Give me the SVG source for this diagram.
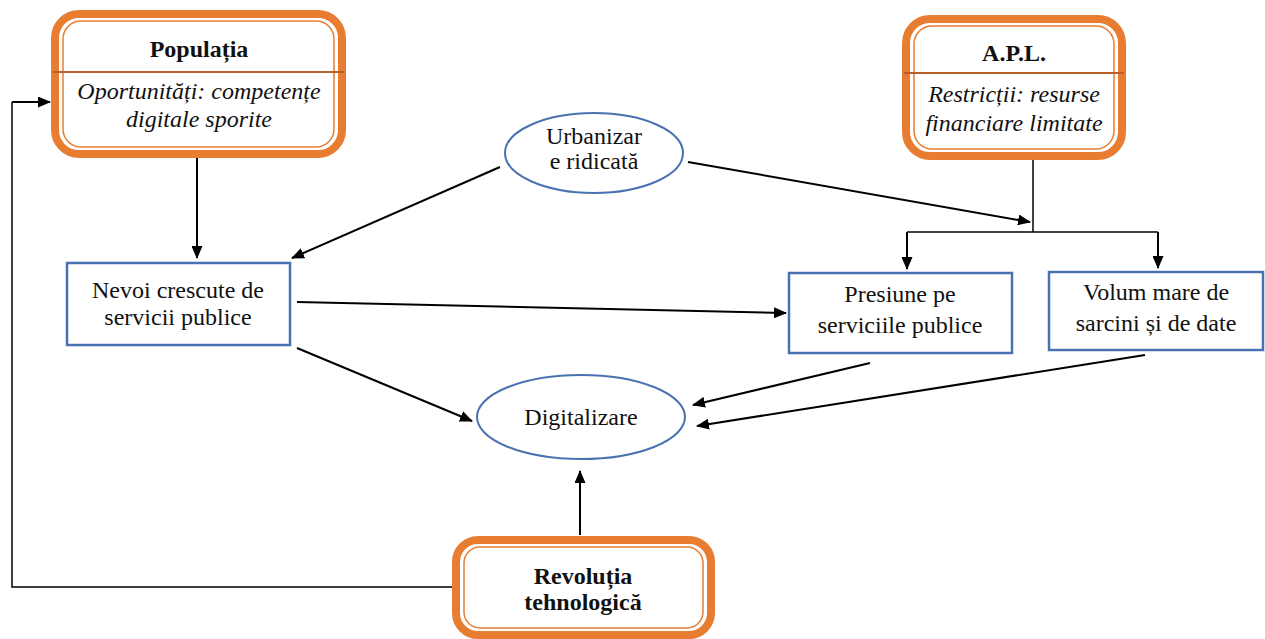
<svg xmlns="http://www.w3.org/2000/svg" width="1265" height="639" viewBox="0 0 1265 639">
<defs>
<marker id="ahb" viewBox="0 0 13 11" refX="12" refY="5.5" markerWidth="13" markerHeight="11" markerUnits="userSpaceOnUse" orient="auto"><path d="M0,0 L13,5.5 L0,11 z" fill="#000"/></marker>
</defs>
<style>
.t{font-family:"Liberation Serif","Times New Roman",serif;font-size:24px;fill:#111;text-anchor:middle}
.b{font-weight:bold}
.i{font-style:italic}
.outer{fill:#fff;stroke:#E87D32;stroke-width:8}
.inner{fill:none;stroke:#E87D32;stroke-width:1.5}
.div{stroke:#B8602A;stroke-width:2}
.box{fill:#fff;stroke:#4A72B0;stroke-width:2.5}
.ell{fill:#fff;stroke:#4A72B0;stroke-width:2}
.c{fill:none;stroke:#000;stroke-width:2;marker-end:url(#ahb)}
.l{fill:none;stroke:#000;stroke-width:1.5}
</style>
<rect width="1265" height="639" fill="#fff"/>
<g id="connectors">
<path class="c" d="M197,156 L197,258"/>
<path class="l" d="M455,587 L12,587 L12,102"/>
<path class="c" d="M12,102 L50,102"/>
<path class="c" d="M580,535 L580,471"/>
<path class="c" d="M500,167 L292,258"/>
<path class="c" d="M688,162 L1030,222"/>
<path class="l" d="M1033,158 L1033,232"/>
<path class="l" d="M907,232 L1158,232"/>
<path class="c" d="M907,232 L907,269"/>
<path class="c" d="M1158,232 L1158,268"/>
<path class="c" d="M297,302 L786,313"/>
<path class="c" d="M297,348 L472,421"/>
<path class="c" d="M870,363 L693,405"/>
<path class="c" d="M1145,355 L697,426"/>
</g>
<g id="populatia">
<rect class="outer" x="55" y="14" width="287" height="140" rx="24"/>
<rect class="inner" x="63" y="21" width="271" height="126" rx="18"/>
<line class="div" x1="53" y1="72" x2="344" y2="72"/>
<text class="t b" x="199" y="57">Populația</text>
<text class="t i" x="199" y="99">Oportunități: competențe</text>
<text class="t i" x="199" y="127">digitale sporite</text>
</g>
<g id="apl">
<rect class="outer" x="906" y="19" width="216" height="137" rx="24"/>
<rect class="inner" x="914" y="26" width="200" height="123" rx="18"/>
<line class="div" x1="904" y1="73" x2="1124" y2="73"/>
<text class="t b" x="1014" y="61">A.P.L.</text>
<text class="t i" x="1014" y="102">Restricții: resurse</text>
<text class="t i" x="1014" y="131">financiare limitate</text>
</g>
<g id="urbanizare">
<ellipse class="ell" cx="594" cy="153" rx="89" ry="40"/>
<text class="t" x="594" y="144">Urbanizar</text>
<text class="t" x="594" y="169">e ridicată</text>
</g>
<g id="nevoi">
<rect class="box" x="67" y="263" width="223" height="82"/>
<text class="t" x="178" y="298">Nevoi crescute de</text>
<text class="t" x="178" y="325">servicii publice</text>
</g>
<g id="presiune">
<rect class="box" x="789" y="273" width="223" height="80"/>
<text class="t" x="900" y="302">Presiune pe</text>
<text class="t" x="900" y="333">serviciile publice</text>
</g>
<g id="volum">
<rect class="box" x="1049" y="272" width="214" height="78"/>
<text class="t" x="1156" y="300">Volum mare de</text>
<text class="t" x="1156" y="331">sarcini și de date</text>
</g>
<g id="digitalizare">
<ellipse class="ell" cx="581" cy="417" rx="104" ry="42"/>
<text class="t" x="581" y="425">Digitalizare</text>
</g>
<g id="revolutia">
<rect class="outer" x="456" y="540" width="255" height="95" rx="22"/>
<rect class="inner" x="464" y="547" width="239" height="81" rx="16"/>
<text class="t b" x="583" y="584">Revoluția</text>
<text class="t b" x="583" y="610">tehnologică</text>
</g>
</svg>
